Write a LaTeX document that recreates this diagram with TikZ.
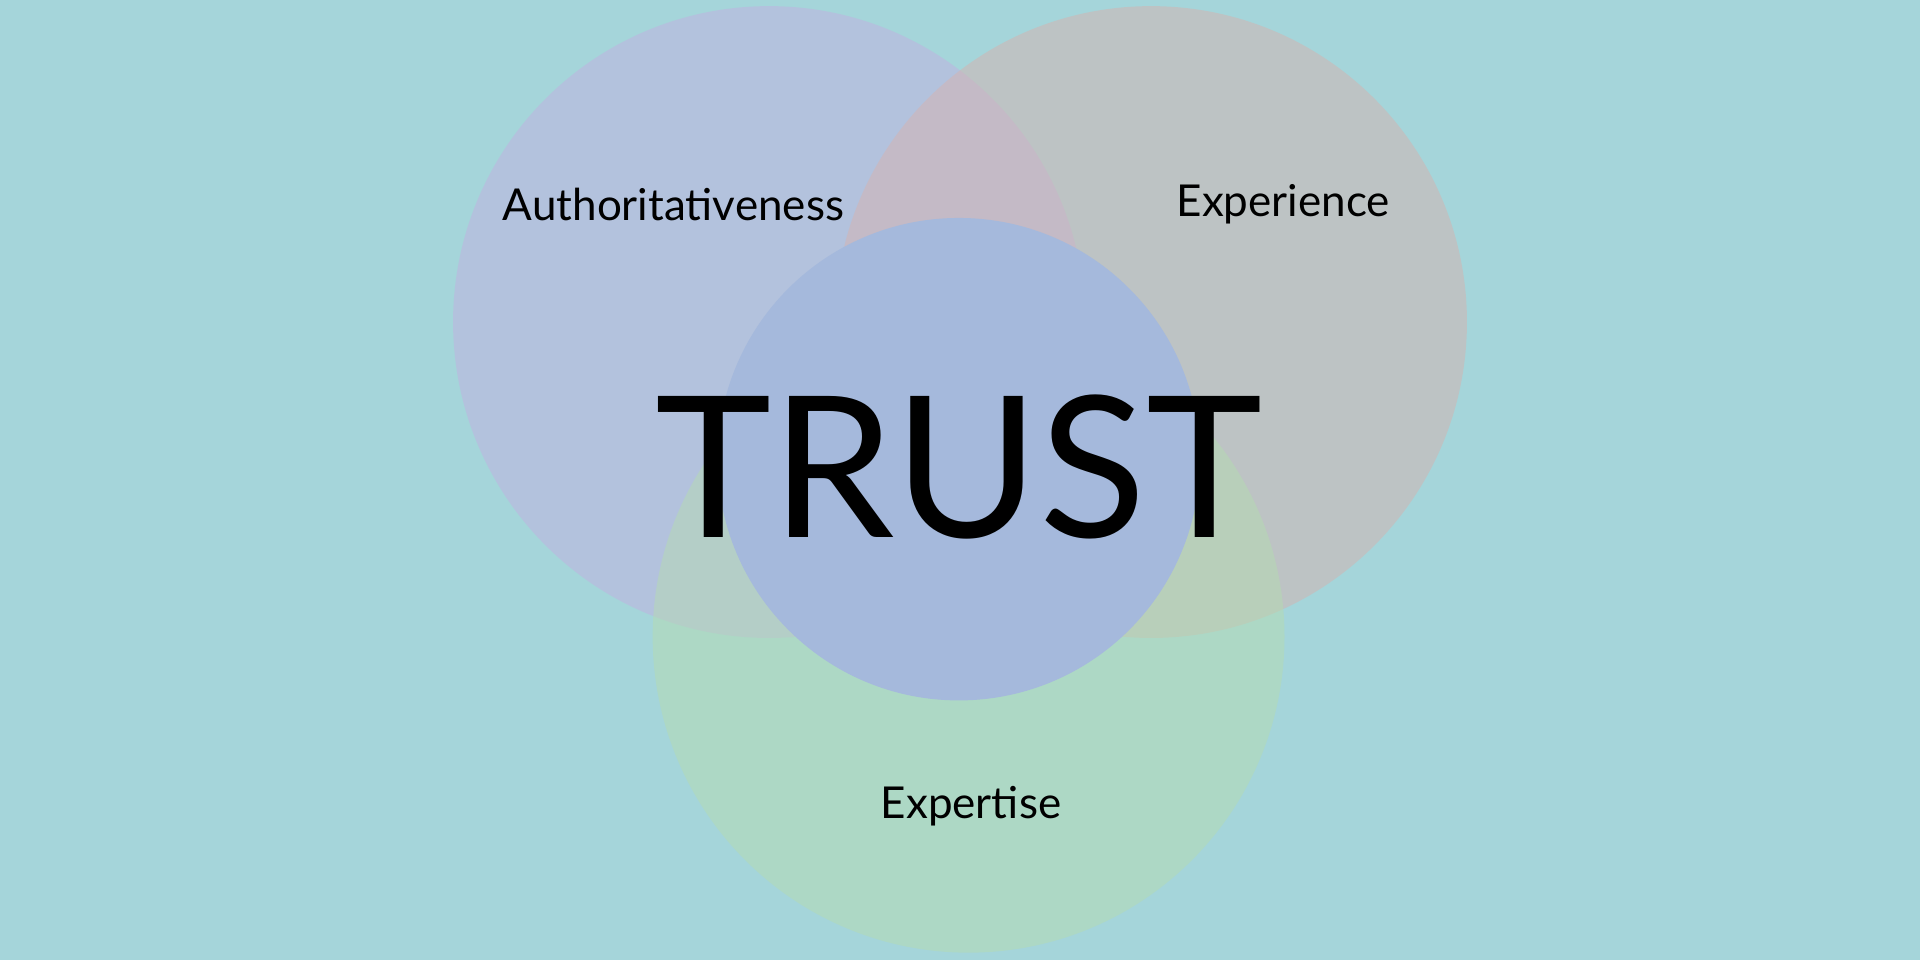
\documentclass[tikz,border=0pt]{standalone}
\usepackage{fontspec}
\setmainfont{Lato}
\definecolor{bgteal}{RGB}{165,213,218}
\definecolor{authcol}{RGB}{193,177,224}
\definecolor{expcol}{RGB}{213,179,176}
\definecolor{expertcol}{RGB}{181,219,178}
\definecolor{trustcol}{RGB}{165,185,220}
\tikzset{
  petal/.style={opacity=0.5},
  label/.style={font=\fontsize{12.5}{14}\selectfont, text=black},
}
\begin{document}
\begin{tikzpicture}[x=0.012245cm, y=-0.012245cm]
  \fill[bgteal] (0,0) rectangle (1568,784);
  \useasboundingbox (0,0) rectangle (1568,784);
  % three petals
  \fill[authcol, petal] (628,263) circle (258);
  \fill[expcol, petal] (940,263) circle (258);
  \fill[expertcol, petal] (791,520) circle (258);
  % core
  \fill[trustcol] (783,375) circle (197);
  \node[label] (auth) at (550,167) {Authoritativeness};
  \node[label] (exper) at (1048,167) {Experience};
  \node[label] (expert) at (793,658) {Expertise};
  \node[font=\fontsize{56}{60}\selectfont] (trust) at (783,381) {TRUST};
\end{tikzpicture}
\end{document}
